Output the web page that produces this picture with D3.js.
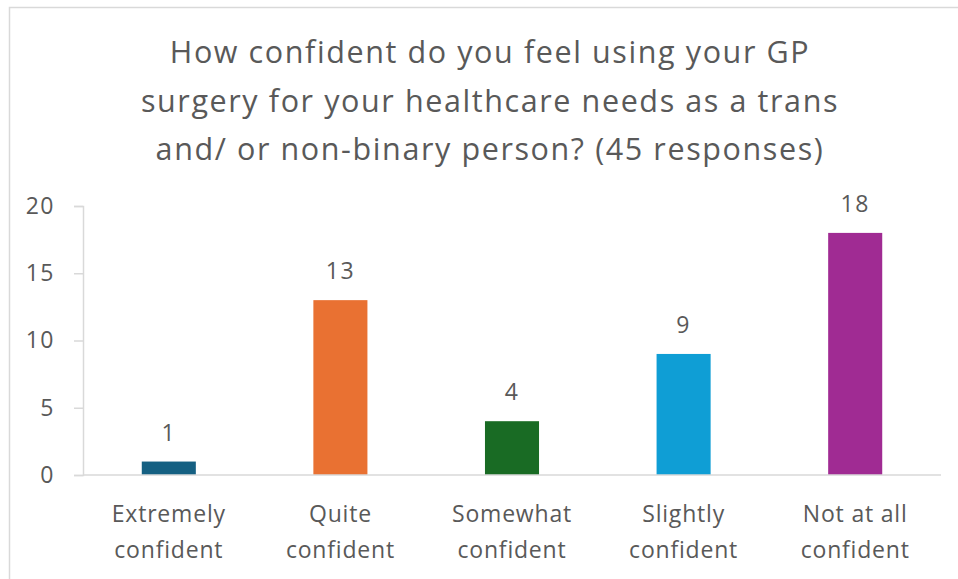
<!DOCTYPE html>
<html>
<head>
<meta charset="utf-8">
<script src="https://cdn.jsdelivr.net/npm/d3@7"></script>
<style>
  html, body { margin: 0; padding: 0; background: #ffffff; }
  svg { display: block; }
  text { font-family: "Open Sans", "Noto Sans", sans-serif; fill: #595959; }
</style>
</head>
<body>
<svg id="chart" width="958" height="579"></svg>
<script>
// Survey answers
const categories = [
  ["Extremely", "confident"],
  ["Quite", "confident"],
  ["Somewhat", "confident"],
  ["Slightly", "confident"],
  ["Not at all", "confident"]
];
const responses = [1, 13, 4, 9, 18];
const barColors = ["#156082", "#e97132", "#196b24", "#0f9ed5", "#a02b93"];
const yTicks = [0, 5, 10, 15, 20];
const titleLines = [
  "How confident do you feel using your GP",
  "surgery for your healthcare needs as a trans",
  "and/ or non-binary person? (45 responses)"
];

const svg = d3.select("#chart");
const W = 958, H = 579;
const plot = { left: 83, right: 941, top: 206, bottom: 475 };

// chart frame
svg.append("rect")
  .attr("x", 9.5).attr("y", 7.5)
  .attr("width", W + 10).attr("height", H + 10)
  .attr("fill", "#ffffff")
  .attr("stroke", "#d9d9d9").attr("stroke-width", 1.5);

// title
svg.append("g").selectAll("text")
  .data(titleLines)
  .join("text")
  .attr("x", 490)
  .attr("y", (d, i) => 63 + i * 48.5)
  .attr("text-anchor", "middle")
  .attr("font-size", 30.5)
  .attr("letter-spacing", 1.6)
  .text(d => d);

const x = d3.scaleBand()
  .domain(d3.range(categories.length))
  .range([plot.left, plot.right])
  .paddingInner(0.685)
  .paddingOuter(0.3425);

const y = d3.scaleLinear()
  .domain([0, 20])
  .range([plot.bottom, plot.top]);

// y axis
const yAxis = svg.append("g")
  .attr("transform", `translate(${plot.left},0)`)
  .call(d3.axisLeft(y).tickValues(yTicks).tickSize(9).tickPadding(19));
yAxis.select(".domain").attr("stroke", "#d9d9d9").attr("stroke-width", 1.5);
yAxis.selectAll(".tick line").attr("stroke", "#d9d9d9").attr("stroke-width", 1.5);
yAxis.selectAll(".tick text")
  .attr("font-size", 23)
  .attr("letter-spacing", 1.5)
  .attr("font-family", "\"Open Sans\", sans-serif")
  .attr("fill", "#595959");

// bars
svg.append("g").selectAll("rect")
  .data(responses)
  .join("rect")
  .attr("x", (d, i) => x(i))
  .attr("y", d => y(d))
  .attr("width", x.bandwidth())
  .attr("height", d => y(0) - y(d))
  .attr("fill", (d, i) => barColors[i]);

// x baseline
svg.append("line")
  .attr("x1", plot.left).attr("x2", plot.right)
  .attr("y1", y(0)).attr("y2", y(0))
  .attr("stroke", "#d9d9d9").attr("stroke-width", 1.5);

// value labels
svg.append("g").selectAll("text")
  .data(responses)
  .join("text")
  .attr("x", (d, i) => x(i) + x.bandwidth() / 2)
  .attr("y", d => y(d) - 21)
  .attr("text-anchor", "middle")
  .attr("font-size", 23)
  .attr("letter-spacing", 1.5)
  .text(d => d);

// category labels
const cat = svg.append("g").selectAll("text")
  .data(categories)
  .join("text")
  .attr("x", (d, i) => x(i) + x.bandwidth() / 2)
  .attr("y", 522)
  .attr("text-anchor", "middle")
  .attr("font-size", 23)
  .attr("letter-spacing", 0.8);
cat.selectAll("tspan")
  .data(d => d)
  .join("tspan")
  .attr("x", function () { return d3.select(this.parentNode).attr("x"); })
  .attr("dy", (d, i) => i === 0 ? 0 : 36)
  .text(d => d);
</script>
</body>
</html>
